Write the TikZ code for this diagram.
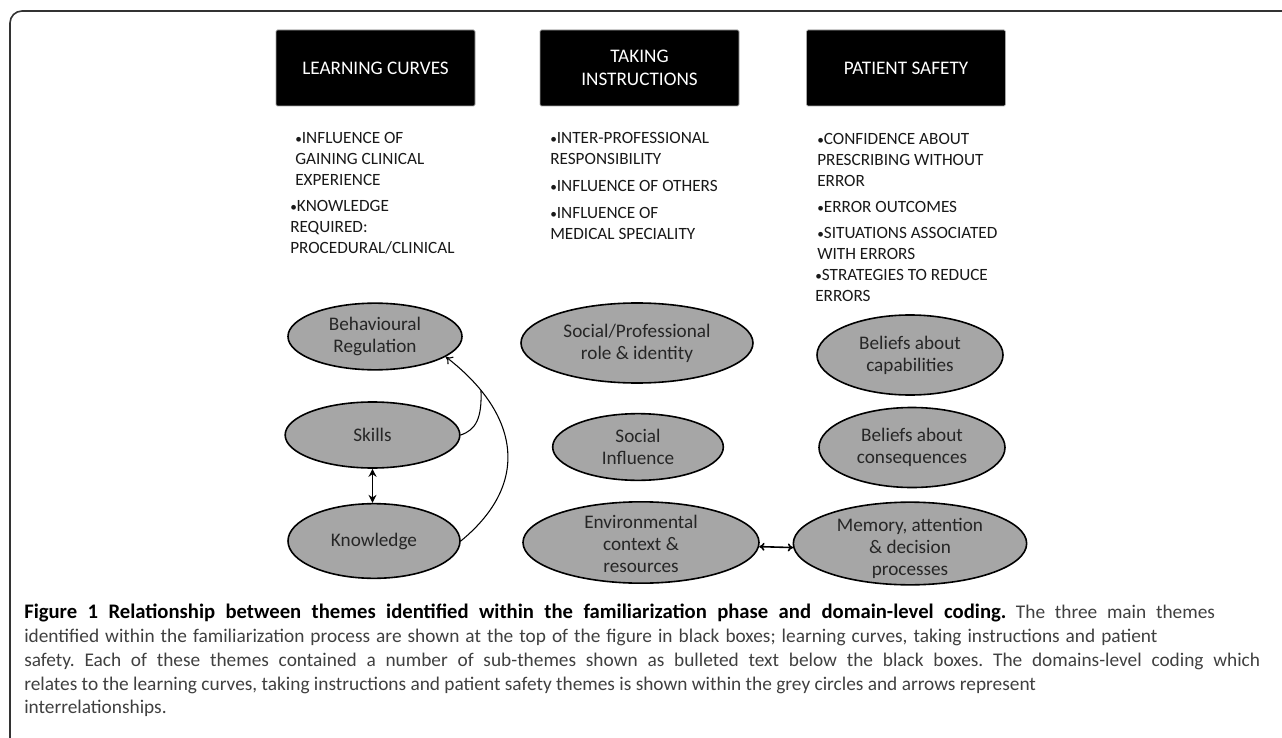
\documentclass[tikz,border=0pt]{standalone}
\usepackage{fontspec}
\setmainfont{Carlito}
\usetikzlibrary{shapes.geometric,arrows.meta}
\definecolor{grayfill}{RGB}{166,166,166}
\definecolor{captxt}{RGB}{64,64,64}
\newcommand{\bul}{\raisebox{0.6pt}{\fontsize{10}{10}\selectfont •}}
\newcommand{\capline}[2]{\makebox[#1][s]{#2}}
\frenchspacing
\begin{document}
\begin{tikzpicture}[x=0.75pt,y=-0.75pt,
  theme/.style={fill=black,draw=gray!70,line width=0.6pt,rounded corners=1pt,
    minimum width=149.25pt,minimum height=57pt,text=white,align=center,inner sep=0pt,
    font=\fontsize{14.4}{17.3}\selectfont},
  sub/.style={anchor=north west,align=left,inner sep=0pt,text=black!90,
    font=\fontsize{12.9}{15.75}\selectfont},
  dom/.style={ellipse,draw=black,fill=grayfill,line width=1.2pt,inner sep=0pt},
  domtext/.style={align=center,inner sep=0pt,text=black!85,
    font=\fontsize{14.4}{16.5}\selectfont},
  rel/.style={line width=0.8pt,draw=black},
]
\useasboundingbox (0,0) rectangle (1282,738);
\fill[white] (0,0) rectangle (1282,738);
% frame
\draw[line width=1.2pt,draw=black!80,rounded corners=9pt] (10,760) -- (10,11) -- (1300,11);

% theme boxes
\node[theme] (lc) at (375.5,68) {LEARNING CURVES};
\node[theme] (ti) at (639.5,68) {TAKING\\INSTRUCTIONS};
\node[theme] (ps) at (906,68) {PATIENT SAFETY};

% sub-themes
\node[sub] (lcsub) at (290,132.5) {\hspace*{3.75pt}\bul INFLUENCE OF\\ \hspace*{3.75pt}GAINING CLINICAL\\ \hspace*{3.75pt}EXPERIENCE\\[3.75pt]
  \bul KNOWLEDGE\\ REQUIRED:\\ PROCEDURAL/CLINICAL};
\node[sub] (tisub) at (550,132.5) {\bul INTER-PROFESSIONAL\\ RESPONSIBILITY\\[4.5pt]
  \bul INFLUENCE OF OTHERS\\[4.5pt] \bul INFLUENCE OF\\ MEDICAL SPECIALITY};
\node[sub] (pssub) at (817,133.5) {\bul CONFIDENCE ABOUT\\ PRESCRIBING WITHOUT\\ ERROR\\[3.75pt]
  \bul ERROR OUTCOMES\\[3.75pt] \bul SITUATIONS ASSOCIATED\\ WITH ERRORS};
\node[sub] (pssub2) at (815,269.5) {\bul STRATEGIES TO REDUCE\\ ERRORS};

% domains
\node[dom,minimum width=130.5pt,minimum height=50pt] (br) at (375,336.5) {};
\node[domtext] at (br) {Behavioural\\Regulation};
\node[dom,minimum width=131pt,minimum height=49.5pt] (sk) at (372.5,435) {};
\node[domtext] at (sk) {Skills};
\node[dom,minimum width=129pt,minimum height=56pt] (kn) at (374,541) {};
\node[domtext] at (kn) {Knowledge};

\node[dom,minimum width=174pt,minimum height=60pt] (sp) at (637,343) {};
\node[domtext] at (sp) {Social/Professional\\role \& identity};
\node[dom,minimum width=128pt,minimum height=50pt] (si) at (638,447) {};
\node[domtext] at (si) {Social\\Influence};
\node[dom,minimum width=177pt,minimum height=61pt] (env) at (641,542.5) {};
\node[domtext] at ([yshift=-1pt]env) {Environmental\\context \&\\resources};

\node[dom,minimum width=139.5pt,minimum height=60pt] (bcap) at (910,355) {};
\node[domtext] at (bcap) {Beliefs about\\capabilities};
\node[dom,minimum width=139.5pt,minimum height=60pt] (bcon) at (912,447.5) {};
\node[domtext] at (bcon) {Beliefs about\\consequences};
\node[dom,minimum width=175pt,minimum height=62pt] (mem) at (910,543.5) {};
\node[domtext] at ([yshift=-3.5pt]mem) {Memory, attention\\\& decision\\processes};

% relations
\draw[rel,-{To[length=5pt,width=7pt]}] (kn.east) .. controls (535,480) and (515,410) .. (br.-16)
  coordinate[pos=0.8] (join);
\draw[rel] (sk.east) .. controls (476,430) and (482,418) .. (join);
\draw[rel,line width=1.2pt,{Stealth[length=6pt,width=6pt]}-{Stealth[length=6pt,width=6pt]}]
  (sk.south) -- (sk.south |- kn.north);
\draw[rel,line width=1.2pt,{To[length=4pt,width=6pt]}-{To[length=4pt,width=6pt]}] (env.-2) -- (mem.182);

% caption
\node[anchor=north west,align=left,inner sep=0pt,text=captxt,font=\fontsize{14.5}{17.8}\selectfont] (cap) at (24,604)
 {\capline{893pt}{\textcolor{black}{\fontsize{15.5}{17.8}\selectfont\bfseries Figure 1 Relationship between themes identified within the familiarization phase and domain-level coding.} The three main themes}\\
 \capline{850pt}{identified within the familiarization process are shown at the top of the figure in black boxes; learning curves, taking instructions and patient}\\
 \capline{927pt}{safety. Each of these themes contained a number of sub-themes shown as bulleted text below the black boxes. The domains-level coding which}\\
 relates to the learning curves, taking instructions and patient safety themes is shown within the grey circles and arrows represent\\
 interrelationships.};
\end{tikzpicture}
\end{document}
